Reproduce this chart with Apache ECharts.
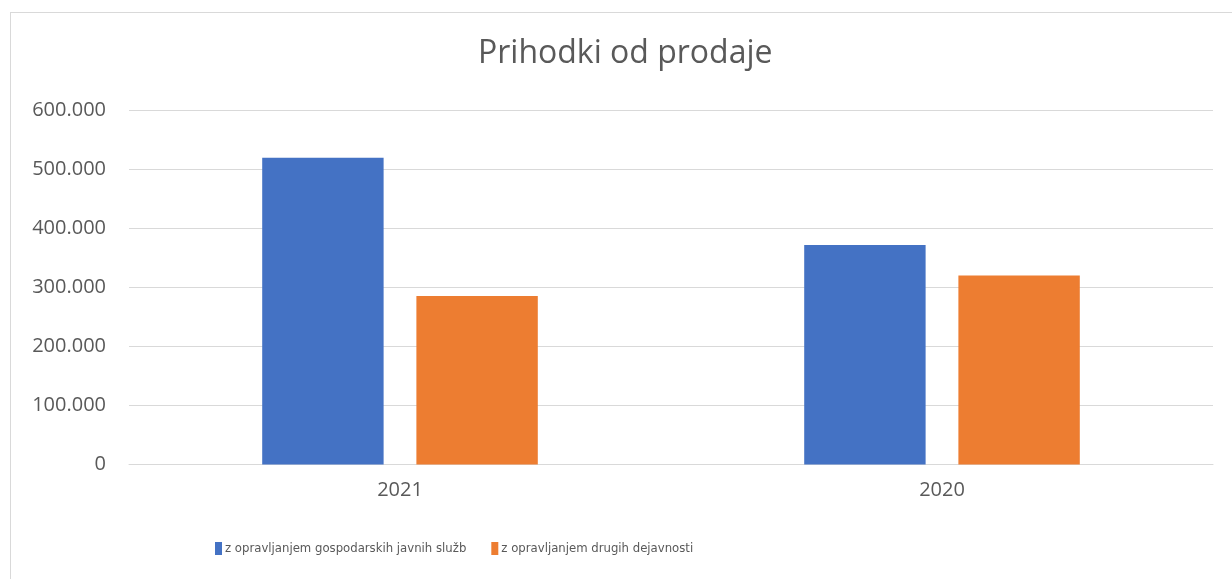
<!DOCTYPE html>
<html>
<head>
<meta charset="utf-8">
<script src="https://cdn.jsdelivr.net/npm/echarts@6/dist/echarts.min.js"></script>
<style>
  html, body { margin: 0; padding: 0; background: #fff; }
  #frame { position: absolute; left: 10px; top: 12px; width: 1300px; height: 600px;
           border-left: 1px solid #d9d9d9; border-top: 1px solid #d9d9d9; }
  #chart { position: absolute; left: 0; top: 0; width: 1232px; height: 579px; }
</style>
</head>
<body>
<div id="frame"></div>
<div id="chart"></div>
<script>
const years = ['2021', '2020'];
const javneSluzbe = [519000, 371500];
const drugeDejavnosti = [285200, 320000];
const seriesNames = ['z opravljanjem gospodarskih javnih služb', 'z opravljanjem drugih dejavnosti'];

const textColor = '#595959';
const fmt = (v) => String(v).replace(/\B(?=(\d{3})+(?!\d))/g, '.');

const chart = echarts.init(document.getElementById('chart'));
chart.setOption({
  animation: false,
  color: ['#4472C4', '#ED7D31'],
  title: {
    text: 'Prihodki od prodaje',
    left: 478,
    top: 38,
    padding: 0,
    textStyle: { color: textColor, fontSize: 32, fontWeight: 'normal', fontFamily: 'Open Sans' },
  },
  legend: {
    left: 215,
    top: 542,
    padding: 0,
    itemWidth: 7,
    itemHeight: 13,
    itemGap: 25,
    icon: 'rect',
    textStyle: {
      color: textColor,
      fontSize: 13,
      fontFamily: '"Liberation Sans Narrow", "DejaVu Sans Condensed", "Open Sans"',
      padding: [0, 0, 0, -2],
    },
    data: seriesNames,
  },
  grid: { left: 129, right: 19, top: 110, bottom: 114.5, containLabel: false },
  xAxis: {
    type: 'category',
    data: years,
    axisLine: { lineStyle: { color: '#d9d9d9', width: 1 } },
    axisTick: { show: false },
    axisLabel: { color: textColor, fontSize: 20, fontFamily: 'Open Sans', margin: 16 },
  },
  yAxis: {
    type: 'value',
    min: 0,
    max: 600000,
    interval: 100000,
    axisLine: { show: false },
    axisTick: { show: false },
    splitLine: { lineStyle: { color: '#d9d9d9', width: 1 } },
    axisLabel: { color: textColor, fontSize: 20, fontFamily: 'Open Sans', margin: 23, formatter: fmt },
  },
  series: [
    { name: seriesNames[0], type: 'bar', data: javneSluzbe, barWidth: '22.4%', barGap: '27%' },
    { name: seriesNames[1], type: 'bar', data: drugeDejavnosti, barWidth: '22.4%', barGap: '27%' },
  ],
});
</script>
</body>
</html>
